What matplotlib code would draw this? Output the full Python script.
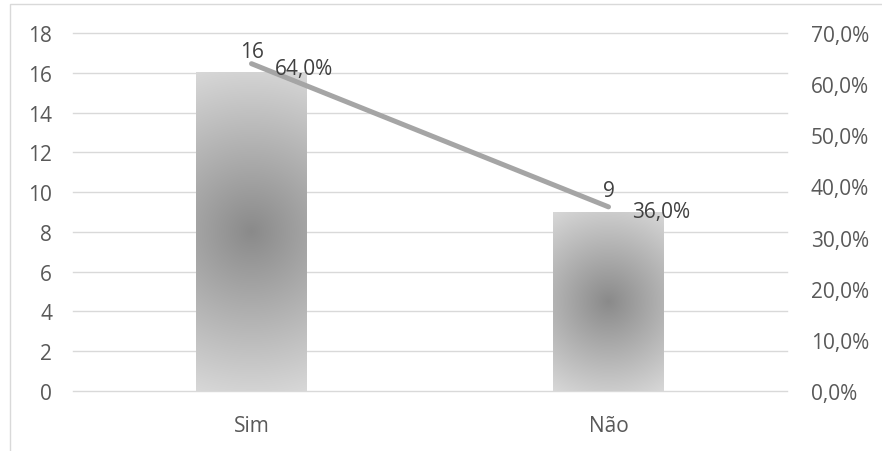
import numpy as np
import matplotlib
matplotlib.use("Agg")
import matplotlib.pyplot as plt
from matplotlib.patches import Rectangle
from matplotlib.ticker import FuncFormatter

categories = ["Sim", "Não"]
counts = [16, 9]
percents = [64.0, 36.0]
count_ticks = [0, 2, 4, 6, 8, 10, 12, 14, 16, 18]
pct_ticks = [0, 10, 20, 30, 40, 50, 60, 70]

W, H = 882, 452
plt.rcParams['font.family'] = ['Open Sans', 'DejaVu Sans']
fig = plt.figure(figsize=(W / 100, H / 100), dpi=100)
txt = "#595959"
fs = 15

# chart border
fig.patches.append(Rectangle((10 / W, -0.1), 1.2, 1 - 5 / H + 0.1, transform=fig.transFigure,
                             fill=False, edgecolor="#d9d9d9", linewidth=1.0))

ax = fig.add_axes([73 / W, 1 - 392 / H, (787 - 73) / W, (392 - 34) / H])
x = np.arange(len(categories))
ax.set_xlim(-0.5, len(categories) - 0.5)
ax.set_ylim(0, 18)
ax.set_yticks(count_ticks)
ax.set_xticks(x)
ax.set_xticklabels(categories)
ax.grid(axis="y", color="#d9d9d9", linewidth=1.0)
for gl in ax.get_ygridlines():
    gl.set_clip_on(False)
ax.set_axisbelow(True)
for s in ax.spines.values():
    s.set_visible(False)
ax.tick_params(axis="both", length=0, colors=txt, labelsize=fs)
ax.tick_params(axis="y", pad=15)
ax.tick_params(axis="x", pad=17)

# radial gradient bars
bw = 0.31
dark = np.array([0x8a, 0x8a, 0x8a]) / 255
light = np.array([0xd8, 0xd8, 0xd8]) / 255
for xi, v in zip(x, counts):
    p0 = ax.transData.transform((xi - bw / 2, 0))
    p1 = ax.transData.transform((xi + bw / 2, v))
    wpx = int(round(abs(p1[0] - p0[0])))
    hpx = int(round(abs(p1[1] - p0[1])))
    yy, xx = np.mgrid[0:hpx, 0:wpx]
    cx, cy = (wpx - 1) / 2, (hpx - 1) / 2
    r = np.hypot(xx - cx, yy - cy)
    R = np.hypot(wpx / 2, hpx / 2)
    t = np.clip(r / R, 0, 1)[..., None]
    img = dark + (light - dark) * t
    ax.imshow(img, extent=(xi - bw / 2, xi + bw / 2, 0, v), aspect="auto",
              interpolation="bilinear", zorder=2, origin="lower")
ax.set_xlim(-0.5, len(categories) - 0.5)
ax.set_ylim(0, 18)

ax2 = ax.twinx()
ax2.set_ylim(0, 70)
ax2.set_yticks(pct_ticks)
ax2.yaxis.set_major_formatter(FuncFormatter(lambda v, p: f"{v:.1f}%".replace(".", ",")))
for s in ax2.spines.values():
    s.set_visible(False)
ax2.tick_params(axis="y", length=0, colors=txt, labelsize=fs, pad=17)
ax2.plot(x, percents, color="#a5a5a5", linewidth=3.6, solid_capstyle="round", zorder=3)

for xi, v in zip(x, counts):
    ax.annotate(str(v), (xi, v), xytext=(0, 15.5), textcoords="offset points",
                ha="center", va="center", color="#404040", fontsize=fs)
for xi, p in zip(x, percents):
    ax2.annotate(f"{p:.1f}%".replace(".", ","), (xi, p), xytext=(17, -3.5), textcoords="offset points",
                 ha="left", va="center", color="#404040", fontsize=fs)

fig.savefig("out.png", dpi=100)
